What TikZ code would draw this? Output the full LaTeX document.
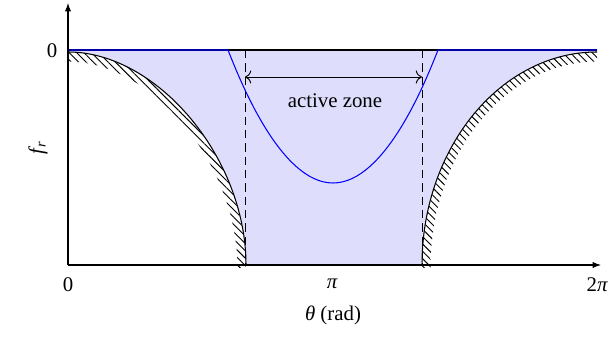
\documentclass[tikz,border=0pt]{standalone}
\usepackage{fontspec}
\setmainfont{Liberation Serif}
\usetikzlibrary{patterns.meta,arrows.meta}
\definecolor{zonefill}{RGB}{222,222,252}
\tikzset{
  axisline/.style={line width=0.5pt,-{Latex[length=4pt,width=3pt]}},
  hatchband/.style={pattern={Lines[angle=-45,distance=2.5pt,line width=0.45pt]}},
  limitcurve/.style={line width=0.5pt},
  zoneline/.style={line width=0.45pt,dash pattern=on 4pt off 2.4pt},
  lbl/.style={inner sep=0pt,font=\fontsize{10}{12}\selectfont},
}
\begin{document}
\begin{tikzpicture}[x=0.48pt,y=-0.48pt]
\useasboundingbox (0,0) rectangle (610,337);
\coordinate (O) at (68,265);
\coordinate (ytop) at (68,3);
\coordinate (xend) at (601,265);
\coordinate (tl) at (68,50);
\coordinate (tr) at (597,50);
% fill region
\fill[zonefill] (68,50) -- (597,50) -- (597,52)
  .. controls (500.75,52) and (422,147.9) .. (422,265)
  -- (246,265)
  .. controls (246,157.5) and (157,52) .. (68,52) -- cycle;
% hatch bands
\fill[hatchband] (68,52) .. controls (157,52) and (246,157.5) .. (246,268)
  -- (237.5,268) .. controls (237.5,163) and (152,61.5) .. (68,61.5) -- cycle;
\fill[hatchband] (422,268) .. controls (422,147.9) and (500.75,52) .. (597,52)
  -- (597,61.5) .. controls (506,61.5) and (430.5,153) .. (430.5,268) -- cycle;
% limit curves
\draw[limitcurve] (68,52) .. controls (157,52) and (246,157.5) .. (246,265);
\draw[limitcurve] (422,265) .. controls (422,147.9) and (500.75,52) .. (597,52);
\draw[limitcurve] (tl) -- (tr);
% dashed zone limits
\coordinate (d1t) at (245,50); \coordinate (d1b) at (245,265);
\coordinate (d2t) at (422,50); \coordinate (d2b) at (422,265);
\draw[zoneline] (d1t) -- (d1b);
\draw[zoneline] (d2t) -- (d2b);
% blue curve
\draw[blue,line width=0.5pt] (tl) -- (228,50) parabola bend (333,183) (438,50) -- (tr);
% active zone arrow
\coordinate (a1) at (245,77); \coordinate (a2) at (422,77);
\draw[line width=0.45pt,{To[length=3pt]}-{To[length=3pt]}] (a1) -- (a2);
\node[lbl] (az) at (335,101) {active zone};
% axes
\draw[axisline] (O) -- (ytop);
\draw[axisline] (O) -- (xend);
% labels
\node[lbl] (y0) at (52,51) {0};
\node[lbl,rotate=90] (fr) at (38,148) {\itshape f\kern0.3pt\raisebox{-0.25ex}{\fontsize{7}{8}\selectfont r}};
\node[lbl] (x0) at (68,285) {0};
\node[lbl] (xpi) at (332,284) {\itshape π};
\node[lbl] (x2pi) at (597,285) {2\itshape π};
\node[lbl] (xl) at (333,315) {\itshape θ\upshape\ (rad)};
\end{tikzpicture}
\end{document}
